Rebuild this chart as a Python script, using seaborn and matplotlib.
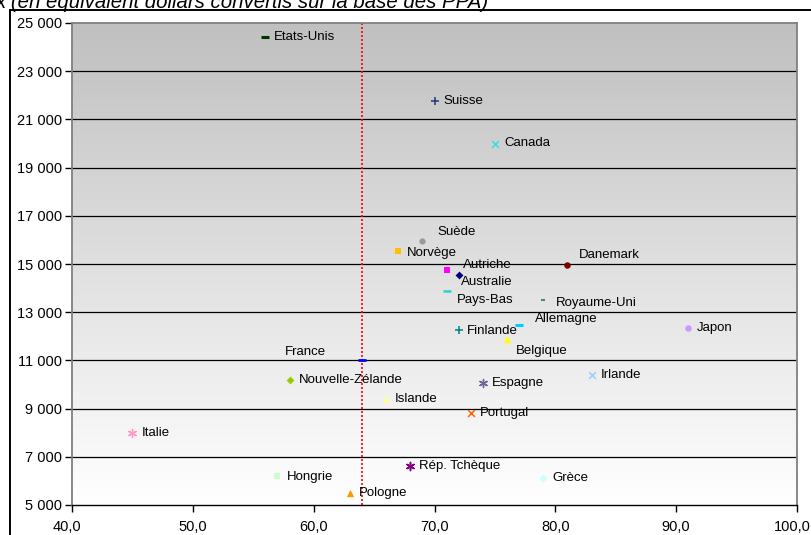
import numpy as np
import pandas as pd
import matplotlib
matplotlib.use("Agg")
import matplotlib.pyplot as plt
import matplotlib.transforms as mtransforms
from matplotlib.patches import Rectangle
from matplotlib.ticker import FuncFormatter
import seaborn as sns

# Data: one point per country (x: indicator, y: amount in PPP dollars)
countries = ["Etats-Unis", "Suisse", "Canada", "Suède", "Norvège", "Danemark",
             "Autriche", "Australie", "Pays-Bas", "Royaume-Uni", "Allemagne",
             "Finlande", "Belgique", "Japon", "France", "Nouvelle-Zélande",
             "Espagne", "Islande", "Portugal", "Irlande", "Italie",
             "Rép. Tchèque", "Hongrie", "Pologne", "Grèce"]
x_values = [56.0, 70.0, 75.0, 69.0, 67.0, 81.0, 71.0, 72.0, 71.0, 79.0, 77.0,
            72.0, 76.0, 91.0, 64.0, 58.0, 74.0, 66.0, 73.0, 83.0, 45.0,
            68.0, 57.0, 63.0, 79.0]
y_values = [24400, 21750, 20000, 15950, 15550, 14950, 14750, 14550, 13900,
            13500, 12450, 12250, 11900, 12350, 11000, 10200, 10050, 9400,
            8800, 10400, 8000, 6600, 6200, 5500, 6100]
reference_x = 64.0
x_ticks = [40, 50, 60, 70, 80, 90, 100]
y_ticks = [5000, 7000, 9000, 11000, 13000, 15000, 17000, 19000, 21000, 23000, 25000]
subtitle = "x (en équivalent dollars convertis sur la base des PPA)"

df = pd.DataFrame({"pays": countries, "x": x_values, "y": y_values})

# Marker style per country: (marker, colour, size, linewidth)
styles = {
    "Etats-Unis": ("_", "#003300", 40, 2.2),
    "Suisse": ("+", "#1F3A7A", 30, 1.1),
    "Canada": ("x", "#33E0E0", 24, 1.1),
    "Suède": ("o", "#999999", 20, 0),
    "Norvège": ("s", "#FFC000", 22, 0),
    "Danemark": ("o", "#800000", 22, 0),
    "Autriche": ("s", "#FF00FF", 24, 0),
    "Australie": ("D", "#000080", 16, 0),
    "Pays-Bas": ("_", "#33CCCC", 30, 1.8),
    "Royaume-Uni": ("_", "#339966", 12, 1.5),
    "Allemagne": ("_", "#00CCFF", 40, 2.2),
    "Finlande": ("+", "#008080", 30, 1.1),
    "Belgique": ("^", "#FFFF00", 28, 0),
    "Japon": ("o", "#CC99FF", 22, 0),
    "France": ("_", "#0000FF", 30, 2.0),
    "Nouvelle-Zélande": ("D", "#99CC00", 16, 0),
    "Espagne": ((6, 2, 0), "#666699", 34, 1.0),
    "Islande": ("^", "#FFFF99", 28, 0),
    "Portugal": ("x", "#FF6600", 24, 1.1),
    "Irlande": ("x", "#99CCFF", 24, 1.1),
    "Italie": ((6, 2, 0), "#FF99CC", 34, 1.0),
    "Rép. Tchèque": ((6, 2, 0), "#800080", 34, 1.1),
    "Hongrie": ("s", "#CCFFCC", 24, 0),
    "Pologne": ("^", "#FF9900", 28, 0),
    "Grèce": ("D", "#CCFFFF", 16, 0),
}

# Label offsets in pixels (dx, dy) from the marker
label_offsets = {
    "Suède": (15, 9), "Norvège": (9, -2), "Danemark": (11, 10),
    "Autriche": (16, 5), "Australie": (2, -7), "Pays-Bas": (10, -9),
    "Royaume-Uni": (13, -3), "Allemagne": (16, 6), "Finlande": (8, -1),
    "Belgique": (9, -12), "France": (-36, 8), "Hongrie": (9, -1),
}
right_aligned = {"France"}

W, H, DPI = 811, 535, 100
fig = plt.figure(figsize=(W / DPI, H / DPI), dpi=DPI)
fig.patch.set_facecolor("white")

font = "Liberation Sans"
plt.rcParams["font.family"] = [font, "DejaVu Sans"]

left, right, top, bottom = 72, 797, 23, 505
ax = fig.add_axes([left / W, 1 - bottom / H, (right - left) / W, (bottom - top) / H])

# Outer chart frame
fig.patches.append(Rectangle((10 / W, -0.1), 1.2, 1 - 10 / H + 0.1,
                             transform=fig.transFigure, fill=False,
                             edgecolor="#000000", linewidth=1.4, zorder=0))

# Subtitle, partly cut by the top edge
fig.text(-4 / W, 1 - 8.5 / H, subtitle, fontsize=14.7, style="italic",
         family=font, ha="left", va="baseline", color="#000000")

ax.set_xlim(40, 100)
ax.set_ylim(5000, 25000)

# Grey-to-white vertical gradient background
grad = np.linspace(0, 1, 256).reshape(-1, 1)
cmap = matplotlib.colors.LinearSegmentedColormap.from_list("bg", ["#FFFFFF", "#C0C0C0"])
ax.imshow(grad, extent=[40, 100, 5000, 25000], origin="lower", aspect="auto",
          cmap=cmap, zorder=0, interpolation="bicubic")

# Horizontal gridlines
for yv in y_ticks[1:-1]:
    ax.axhline(yv, color="#000000", linewidth=0.9, zorder=1)

# Vertical reference line
ax.axvline(reference_x, color="#FF0000", linestyle=(0, (1.2, 1.2)), linewidth=1.2, zorder=2)

for _, row in df.iterrows():
    m, c, s, lw = styles[row["pays"]]
    sns.scatterplot(x=[row["x"]], y=[row["y"]], marker=m, color=c, s=s,
                    linewidth=lw, edgecolor=c if lw == 0 else None,
                    ax=ax, zorder=4, legend=False)
    dx, dy = label_offsets.get(row["pays"], (9, 0))
    ax.annotate(row["pays"], (row["x"], row["y"]), xytext=(dx, dy),
                textcoords="offset pixels", fontsize=9.5, family=font,
                ha="right" if row["pays"] in right_aligned else "left",
                va="center", color="#000000", zorder=5)

ax.set_xlabel("")
ax.set_ylabel("")
ax.xaxis.set_major_locator(plt.FixedLocator(x_ticks))
ax.yaxis.set_major_locator(plt.FixedLocator(y_ticks))
ax.xaxis.set_major_formatter(FuncFormatter(lambda v, p: f"{v:.1f}".replace(".", ",")))
ax.yaxis.set_major_formatter(FuncFormatter(lambda v, p: f"{int(v):,}".replace(",", " ")))
ax.tick_params(axis="both", direction="out", length=5, width=1, color="#000000",
               labelsize=10.5)
ax.tick_params(axis="x", pad=6)
ax.tick_params(axis="y", pad=2)
for lab in ax.get_xticklabels() + ax.get_yticklabels():
    lab.set_family(font)

# Edge x labels sit slightly left of their ticks
shift = mtransforms.ScaledTranslation(-5 / DPI, 0, fig.dpi_scale_trans)
xlabels = ax.get_xticklabels()
for lab in (xlabels[0], xlabels[-1]):
    lab.set_transform(lab.get_transform() + shift)

for side in ["left", "right", "top"]:
    ax.spines[side].set_color("#808080")
    ax.spines[side].set_linewidth(1.3)
ax.spines["bottom"].set_color("#000000")
ax.spines["bottom"].set_linewidth(1.0)
ax.grid(False)

fig.savefig("out.png", dpi=DPI)
